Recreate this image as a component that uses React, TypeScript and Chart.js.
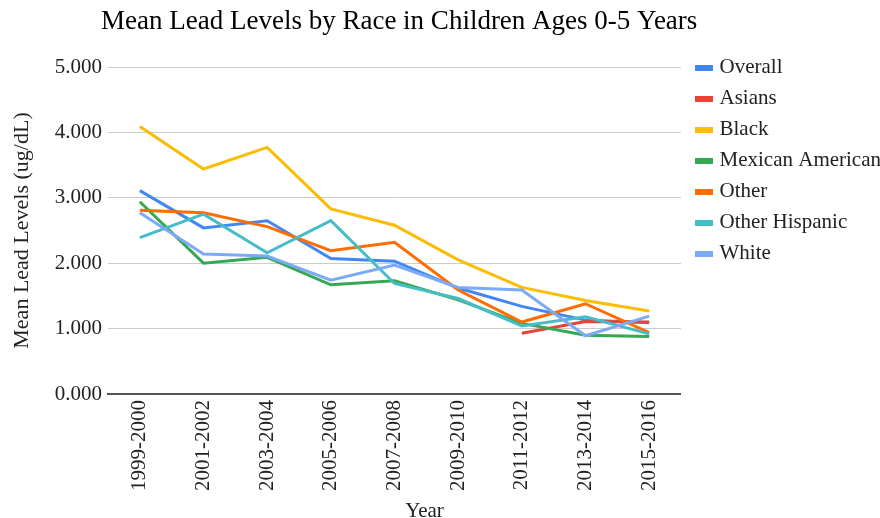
import React, { useEffect, useRef } from "react";
import { Chart, registerables } from "chart.js";

Chart.register(...registerables);

const chartTitle = "Mean Lead Levels by Race in Children Ages 0-5 Years";
const xAxisTitle = "Year";
const yAxisTitle = "Mean Lead Levels (ug/dL)";

const categories = [
  "1999-2000",
  "2001-2002",
  "2003-2004",
  "2005-2006",
  "2007-2008",
  "2009-2010",
  "2011-2012",
  "2013-2014",
  "2015-2016",
];

const overall = [3.11, 2.54, 2.65, 2.07, 2.03, 1.62, 1.34, 1.13, 1.09];
const asians = [null, null, null, null, null, null, 0.93, 1.11, 1.1];
const black = [4.09, 3.44, 3.77, 2.83, 2.58, 2.05, 1.63, 1.43, 1.27];
const mexicanAmerican = [2.94, 2.0, 2.09, 1.67, 1.73, 1.44, 1.08, 0.9, 0.88];
const other = [2.81, 2.77, 2.56, 2.19, 2.32, 1.59, 1.1, 1.38, 0.94];
const otherHispanic = [2.39, 2.75, 2.16, 2.65, 1.69, 1.46, 1.04, 1.18, 0.92];
const white = [2.77, 2.14, 2.11, 1.74, 1.97, 1.63, 1.59, 0.89, 1.19];

const seriesNames = ["Overall", "Asians", "Black", "Mexican American", "Other", "Other Hispanic", "White"];
const seriesValues = [overall, asians, black, mexicanAmerican, other, otherHispanic, white];
const seriesColors = ["#4285F4", "#EA4335", "#FBBC04", "#34A853", "#FF6D01", "#46BDC6", "#7BAAF7"];

const yMin = 0;
const yMax = 5;
const yStep = 1;

const FONT = '"Liberation Serif", "Times New Roman", serif';

function legendSwatch(color: string): HTMLCanvasElement {
  const c = document.createElement("canvas");
  c.width = 30;
  c.height = 6;
  const g = c.getContext("2d")!;
  g.fillStyle = color;
  g.fillRect(10, 0, 18, 6);
  return c;
}

const textPlugin = {
  id: "textPlugin",
  afterDraw(chart: any) {
    const ctx = chart.ctx;
    const area = chart.chartArea;
    ctx.save();
    ctx.fillStyle = "#000";
    ctx.textBaseline = "middle";
    ctx.textAlign = "left";
    ctx.font = `27px ${FONT}`;
    ctx.fillText(chartTitle, 101, 22);
    ctx.fillStyle = "#222";
    ctx.textAlign = "center";
    ctx.font = `21px ${FONT}`;
    ctx.fillText(xAxisTitle, (area.left + area.right) / 2 + 30, 511);
    ctx.restore();
  },
};

export default function App() {
  const canvasRef = useRef<HTMLCanvasElement | null>(null);

  useEffect(() => {
    document.body.style.margin = "0";
    const canvas = canvasRef.current;
    if (!canvas) return;
    const swatches = seriesColors.map(legendSwatch);
    const chart = new Chart(canvas, {
      type: "line",
      data: {
        labels: categories,
        datasets: seriesNames.map((name, i) => ({
          label: name,
          data: seriesValues[i],
          borderColor: seriesColors[i],
          backgroundColor: seriesColors[i],
          borderWidth: 3,
          pointRadius: 0,
          tension: 0,
          spanGaps: false,
          order: seriesNames.length - i,
        })),
      },
      options: {
        animation: false,
        responsive: false,
        maintainAspectRatio: false,
        layout: { padding: { top: 47, right: -11, left: 0, bottom: 0 } },
        plugins: {
          title: { display: false },
          tooltip: { enabled: false },
          legend: {
            display: true,
            position: "right",
            align: "start",
            labels: {
              usePointStyle: true,
              pointStyleWidth: 18,
              boxWidth: 18,
              boxHeight: 6,
              padding: 10,
              color: "#222",
              font: { family: FONT, size: 21 },
              sort: (a: any, b: any) => a.datasetIndex - b.datasetIndex,
              generateLabels: (chart: any) => {
                const items = Chart.defaults.plugins.legend.labels.generateLabels(chart);
                return items.map((it: any) => ({
                  ...it,
                  pointStyle: swatches[it.datasetIndex],
                  lineWidth: 0,
                }));
              },
            },
          },
        },
        scales: {
          x: {
            type: "category",
            offset: true,
            grid: { display: false, drawTicks: false },
            border: { display: true, color: "#555", width: 2 },
            ticks: {
              autoSkip: false,
              maxRotation: 90,
              minRotation: 90,
              padding: 6,
              color: "#222",
              font: { family: FONT, size: 21 },
            },
            afterFit: (scale: any) => {
              scale.height = 124;
            },
          },
          y: {
            min: yMin,
            max: yMax,
            ticks: {
              stepSize: yStep,
              padding: 6,
              color: "#222",
              font: { family: FONT, size: 21 },
              callback: (v: any) => Number(v).toFixed(3),
            },
            grid: { color: "#cccccc", lineWidth: 1, drawTicks: false },
            border: { display: false },
            title: {
              display: true,
              text: yAxisTitle,
              color: "#222",
              font: { family: FONT, size: 22 },
              padding: { top: 9, bottom: 0 },
            },
            afterFit: (scale: any) => {
              scale.width = 108;
              scale.paddingTop = 67;
            },
          },
        },
      },
      plugins: [textPlugin],
    });
    return () => chart.destroy();
  }, []);

  return (
    <div style={{ width: 880, height: 518 }}>
      <canvas ref={canvasRef} width={880} height={518} style={{ display: "block" }} />
    </div>
  );
}
